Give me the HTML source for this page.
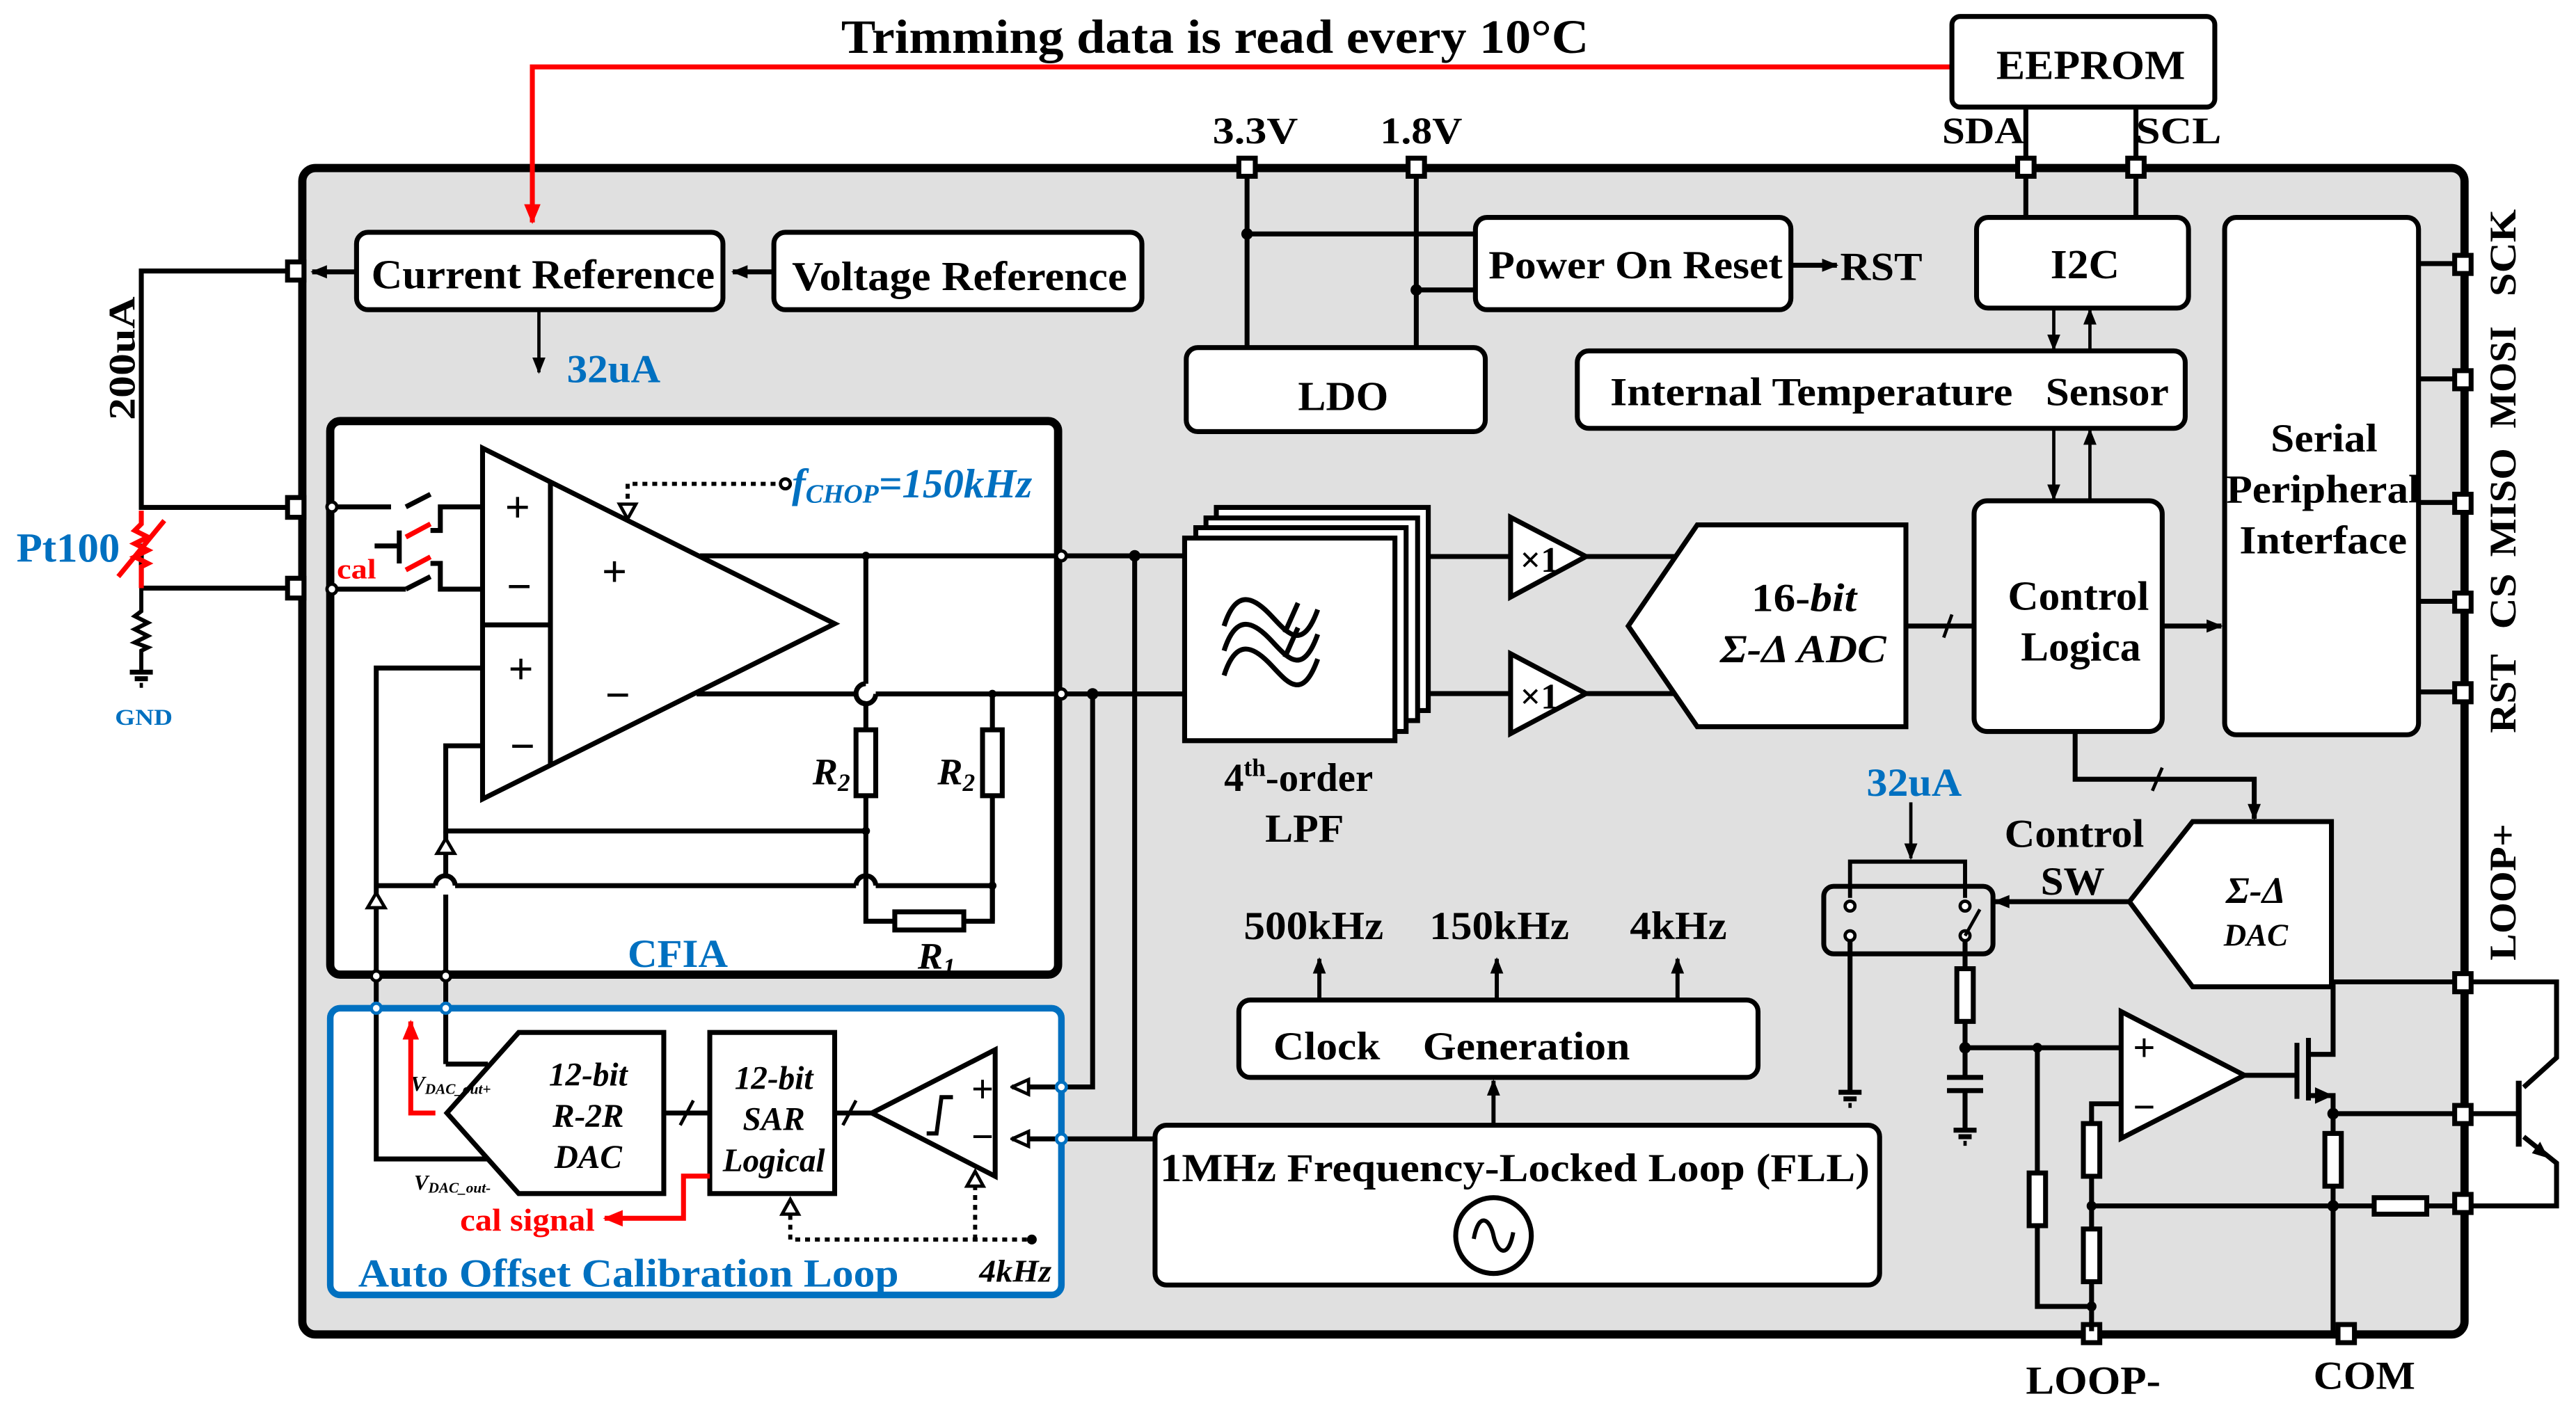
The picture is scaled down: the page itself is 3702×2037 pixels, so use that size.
<!DOCTYPE html>
<html><head><meta charset="utf-8"><style>
html,body{margin:0;padding:0;background:#fff;}
svg{display:block;}
text{font-family:"Liberation Serif",serif;font-weight:bold;}
</style></head><body>
<svg width="3702" height="2037" viewBox="0 0 1560 858.4" preserveAspectRatio="none" xmlns="http://www.w3.org/2000/svg">
<defs>
<marker id="ab" markerWidth="10" markerHeight="10" refX="9" refY="5" orient="auto" markerUnits="userSpaceOnUse"><path d="M0,1 L10,5 L0,9 Z" fill="#000"/></marker>
<marker id="ar" markerWidth="12" markerHeight="12" refX="11" refY="6" orient="auto" markerUnits="userSpaceOnUse"><path d="M0,1 L12,6 L0,11 Z" fill="#f00"/></marker>
<marker id="ao" markerWidth="12" markerHeight="12" refX="11" refY="6" orient="auto" markerUnits="userSpaceOnUse"><path d="M1,1.5 L11,6 L1,10.5 Z" fill="#fff" stroke="#000" stroke-width="2"/></marker>
</defs>
<g transform="scale(0.995,0.998)">
<text x="512" y="32" font-size="29" textLength="455" lengthAdjust="spacingAndGlyphs">Trimming data is read every 10°C</text>

<rect x="184" y="102" width="1316" height="708" rx="8" fill="#e0e0e0" stroke="#000" stroke-width="5"/>

<polyline points="1188,40.6 324,40.6 324,135" fill="none" stroke="#f00" stroke-width="3" marker-end="url(#ar)"/>

<rect x="1188" y="10" width="160" height="55" rx="5" fill="#fff" stroke="#000" stroke-width="3"/>
<text x="1215" y="48" font-size="25" textLength="115" lengthAdjust="spacingAndGlyphs">EEPROM</text>
<g stroke="#000" stroke-width="3" fill="none">
<line x1="1233" y1="65" x2="1233" y2="132"/>
<line x1="1300" y1="65" x2="1300" y2="132"/>
<line x1="759" y1="102" x2="759" y2="211"/>
<line x1="862" y1="102" x2="862" y2="211"/>
<line x1="759" y1="142" x2="898" y2="142"/>
<line x1="862" y1="176" x2="898" y2="176"/>
</g>
<text x="1182" y="87" font-size="23" textLength="50" lengthAdjust="spacingAndGlyphs">SDA</text>
<text x="1300" y="87" font-size="23" textLength="52" lengthAdjust="spacingAndGlyphs">SCL</text>
<text x="738" y="87" font-size="23" textLength="52" lengthAdjust="spacingAndGlyphs">3.3V</text>
<text x="840" y="87" font-size="23" textLength="50" lengthAdjust="spacingAndGlyphs">1.8V</text>
<circle cx="759" cy="142" r="3.5"/><circle cx="862" cy="176" r="3.5"/>

<g fill="#fff" stroke="#000" stroke-width="3">
<rect x="217" y="141" width="223" height="47" rx="7"/>
<rect x="471" y="141" width="224" height="47" rx="7"/>
<rect x="898" y="132" width="192" height="56" rx="7"/>
<rect x="722" y="211" width="182" height="51" rx="7"/>
<rect x="960" y="213" width="370" height="47" rx="7"/>
<rect x="1203" y="132" width="129" height="55" rx="7"/>
<rect x="1354" y="132" width="118" height="314" rx="7"/>
<rect x="1201.5" y="304" width="114.5" height="140" rx="8"/>
</g>
<text x="226" y="175" font-size="25" textLength="209" lengthAdjust="spacingAndGlyphs">Current Reference</text>
<text x="482" y="176" font-size="25" textLength="204" lengthAdjust="spacingAndGlyphs">Voltage Reference</text>
<text x="906" y="169" font-size="24" textLength="179" lengthAdjust="spacingAndGlyphs">Power On Reset</text>
<text x="790" y="249" font-size="25" textLength="55" lengthAdjust="spacingAndGlyphs">LDO</text>
<text x="980" y="246" font-size="24" textLength="245" lengthAdjust="spacingAndGlyphs">Internal Temperature</text>
<text x="1245" y="246" font-size="24" textLength="75" lengthAdjust="spacingAndGlyphs">Sensor</text>
<text x="1248" y="169" font-size="25" textLength="42" lengthAdjust="spacingAndGlyphs">I2C</text>
<text x="1382" y="274" font-size="24" textLength="65" lengthAdjust="spacingAndGlyphs">Serial</text>
<text x="1355" y="305" font-size="24" textLength="118" lengthAdjust="spacingAndGlyphs">Peripheral</text>
<text x="1363" y="336" font-size="24" textLength="102" lengthAdjust="spacingAndGlyphs">Interface</text>
<text x="1222" y="370" font-size="25" textLength="86" lengthAdjust="spacingAndGlyphs">Control</text>
<text x="1230" y="401" font-size="25" textLength="73" lengthAdjust="spacingAndGlyphs">Logica</text>

<g stroke="#000" stroke-width="3" fill="none">
<line x1="1090" y1="161" x2="1118" y2="161" marker-end="url(#ab)"/>
<line x1="471" y1="165" x2="446" y2="165" marker-end="url(#ab)"/>
<line x1="217" y1="165" x2="190" y2="165" marker-end="url(#ab)"/>
<line x1="328" y1="188" x2="328" y2="226" stroke-width="2" marker-end="url(#ab)"/>
<line x1="1250" y1="187" x2="1250" y2="212" stroke-width="2" marker-end="url(#ab)"/>
<line x1="1272" y1="212" x2="1272" y2="188" stroke-width="2" marker-end="url(#ab)"/>
<line x1="1250" y1="260" x2="1250" y2="303" stroke-width="2" marker-end="url(#ab)"/>
<line x1="1272" y1="303" x2="1272" y2="261" stroke-width="2" marker-end="url(#ab)"/>
<line x1="1316" y1="380" x2="1352" y2="380" marker-end="url(#ab)"/>
<line x1="1160" y1="380" x2="1201" y2="380"/>
<line x1="1183" y1="387" x2="1188" y2="373" stroke-width="2"/>
<line x1="1472" y1="160" x2="1497" y2="160"/>
<line x1="1472" y1="230" x2="1497" y2="230"/>
<line x1="1472" y1="305" x2="1497" y2="305"/>
<line x1="1472" y1="365" x2="1497" y2="365"/>
<line x1="1472" y1="420" x2="1497" y2="420"/>
</g>
<text x="1120" y="170" font-size="24" textLength="50" lengthAdjust="spacingAndGlyphs">RST</text>
<text x="345" y="232" font-size="24" fill="#0070c0" textLength="57" lengthAdjust="spacingAndGlyphs">32uA</text>

<g font-size="23">
<text transform="translate(1531,180) rotate(-90)" textLength="53" lengthAdjust="spacingAndGlyphs">SCK</text>
<text transform="translate(1531,260) rotate(-90)" textLength="62" lengthAdjust="spacingAndGlyphs">MOSI</text>
<text transform="translate(1531,338) rotate(-90)" textLength="66" lengthAdjust="spacingAndGlyphs">MISO</text>
<text transform="translate(1531,382) rotate(-90)" textLength="34" lengthAdjust="spacingAndGlyphs">CS</text>
<text transform="translate(1531,445) rotate(-90)" textLength="48" lengthAdjust="spacingAndGlyphs">RST</text>
<text transform="translate(1531,583) rotate(-90)" textLength="83" lengthAdjust="spacingAndGlyphs">LOOP+</text>
</g>

<g stroke="#000" stroke-width="3" fill="none">
<polyline points="180,164.5 86,164.5 86,308 180,308"/>
<polyline points="86,357 180,357"/>
<line x1="86" y1="330" x2="86" y2="357"/>
<polyline points="86,357 86,371 82,374 90,378 82,382 90,386 82,390 90,393 86,395 86,408" stroke-width="2.5"/>
<line x1="79" y1="408" x2="93" y2="408"/><line x1="82" y1="412" x2="90" y2="412"/><line x1="85" y1="416" x2="87" y2="416"/>
</g>
<g stroke="#f00" stroke-width="3" fill="none">
<polyline points="86,310 86,318 82,322 90,326 82,330 90,334 82,338 90,342 86,344 86,357"/>
<line x1="72" y1="350" x2="100" y2="316"/>
</g>
<text transform="translate(82,255) rotate(-90)" font-size="23" textLength="75" lengthAdjust="spacingAndGlyphs">200uA</text>
<text x="10" y="341" font-size="25" fill="#0070c0" textLength="63" lengthAdjust="spacingAndGlyphs">Pt100</text>
<text x="70" y="440" font-size="14" fill="#0070c0" textLength="35" lengthAdjust="spacingAndGlyphs">GND</text>

<g fill="#fff" stroke="#000" stroke-width="3">
<rect x="175" y="159" width="10" height="11"/>
<rect x="175" y="302" width="10" height="12"/>
<rect x="175" y="351" width="10" height="12"/>
<rect x="754" y="96" width="10" height="11"/>
<rect x="857" y="96" width="10" height="11"/>
<rect x="1228" y="96" width="10" height="11"/>
<rect x="1295" y="96" width="10" height="11"/>
<rect x="1494" y="155" width="10" height="11"/>
<rect x="1494" y="225" width="10" height="11"/>
<rect x="1494" y="300" width="10" height="11"/>
<rect x="1494" y="360" width="10" height="11"/>
<rect x="1494" y="415" width="10" height="11"/>
<rect x="1494" y="591" width="10" height="11"/>
<rect x="1494" y="671" width="10" height="11"/>
<rect x="1494" y="725" width="10" height="11"/>
<rect x="1268" y="804" width="10" height="11"/>
<rect x="1423" y="804" width="10" height="11"/>
</g>
<text x="1233" y="846" font-size="24" textLength="82" lengthAdjust="spacingAndGlyphs">LOOP-</text>
<text x="1408" y="843" font-size="24" textLength="62" lengthAdjust="spacingAndGlyphs">COM</text>

<!-- CFIA -->
<rect x="201" y="255.6" width="443" height="336" rx="6" fill="#fff" stroke="#000" stroke-width="5"/>
<rect x="201" y="612" width="445" height="174" rx="6" fill="#fff" stroke="#0070c0" stroke-width="4"/>
<g stroke="#000" stroke-width="3" fill="none">
<polygon points="293.7,272 508,378.6 293.7,485" fill="#fff"/>
<line x1="335" y1="292.5" x2="335" y2="464.5"/>
<line x1="293.7" y1="379.3" x2="335" y2="379.3"/>
<line x1="201" y1="307.7" x2="238" y2="307.7"/>
<line x1="247" y1="307.7" x2="262" y2="300"/>
<polyline points="293.7,307.7 268,307.7 268,322 262,322"/>
<line x1="201" y1="357.6" x2="247" y2="357.6"/>
<line x1="247" y1="357.6" x2="262" y2="350"/>
<polyline points="293.7,357.6 268,357.6 268,342 262,342"/>
<line x1="228" y1="331.4" x2="243" y2="331.4"/>
<line x1="243" y1="322" x2="243" y2="342"/>
<line x1="426" y1="337.4" x2="724" y2="337.4"/>
<line x1="424" y1="421.2" x2="521" y2="421.2"/>
<path d="M521,421.2 A6,6 0 0 0 533,421.2"/>
<line x1="533" y1="421.2" x2="724" y2="421.2"/>
<line x1="527" y1="337.4" x2="527" y2="415"/>
<path d="M527,415 A6,6 0 0 0 527,427"/>
<line x1="527" y1="427" x2="527" y2="443"/>
<rect x="521" y="443" width="12" height="40" fill="#fff"/>
<line x1="527" y1="483" x2="527" y2="531"/>
<path d="M521,537.6 A6,6 0 0 1 533,537.6"/>
<polyline points="527,531 527,559.2 544.6,559.2"/>
<rect x="544.6" y="553.5" width="42" height="11" fill="#fff"/>
<polyline points="586.6,559.2 604,559.2 604,483"/>
<rect x="598" y="443" width="12" height="40" fill="#fff"/>
<line x1="604" y1="443" x2="604" y2="421.2"/>
<polyline points="293.7,452.7 271.3,452.7 271.3,504.4 527,504.4"/>
<line x1="271.3" y1="504.4" x2="271.3" y2="532"/>
<path d="M265,537.6 A6,6 0 0 1 277,537.6"/>
<line x1="271.3" y1="543" x2="271.3" y2="645.9"/>
<polyline points="293.7,405.5 229,405.5 229,703.5 297,703.5"/>
<polyline points="229,537.6 265,537.6"/>
<polyline points="277,537.6 521,537.6"/>
<polyline points="533,537.6 604,537.6 604,559.2"/>
<polyline points="271.3,645.9 297,645.9"/>
</g>
<g stroke="#f00" stroke-width="3"><line x1="247" y1="326" x2="262" y2="318"/><line x1="247" y1="346" x2="262" y2="338"/></g>
<g fill="#fff" stroke="#000" stroke-width="2">
<polygon points="271.3,509 266,518 276.6,518"/><polygon points="229,542 223.7,551 234.3,551"/>
</g>
<g font-size="27"><text x="315" y="317" text-anchor="middle">+</text><text x="316" y="365" text-anchor="middle">−</text>
<text x="317" y="415" text-anchor="middle">+</text><text x="318" y="462" text-anchor="middle">−</text>
<text x="374" y="356" text-anchor="middle">+</text><text x="376" y="431" text-anchor="middle">−</text></g>
<text x="506" y="476" font-size="23" font-style="italic" text-anchor="middle">R<tspan font-size="15" dy="4">2</tspan></text>
<text x="582" y="476" font-size="23" font-style="italic" text-anchor="middle">R<tspan font-size="15" dy="4">2</tspan></text>
<text x="570" y="588" font-size="23" font-style="italic" text-anchor="middle">R<tspan font-size="15" dy="4">1</tspan></text>
<text x="382" y="587" font-size="24" fill="#0070c0" textLength="61" lengthAdjust="spacingAndGlyphs">CFIA</text>
<text x="205" y="351" font-size="17" fill="#f00" textLength="24" lengthAdjust="spacingAndGlyphs">cal</text>
<polyline points="478,293.7 382,293.7 382,313" fill="none" stroke="#000" stroke-width="2.5" stroke-dasharray="3,3"/>
<polygon points="382,315 377,306 387,306" fill="#fff" stroke="#000" stroke-width="2"/>
<circle cx="478" cy="293.7" r="3" fill="#fff" stroke="#000" stroke-width="2"/>
<text x="482" y="302" font-size="25" fill="#0070c0" font-style="italic">f<tspan font-size="16" dy="3">CHOP</tspan><tspan dy="-3">=150kHz</tspan></text>
<g fill="#fff" stroke="#000" stroke-width="2">
<circle cx="202" cy="307.7" r="3"/><circle cx="202" cy="357.6" r="3"/>
<circle cx="646" cy="337.4" r="3"/><circle cx="646" cy="421.2" r="3"/>
<circle cx="229" cy="592.4" r="3"/><circle cx="271.3" cy="592.4" r="3"/>
</g>
<g><circle cx="527" cy="337.4" r="2.5"/><circle cx="604" cy="421.2" r="2.5"/><circle cx="527" cy="504.4" r="2.5"/><circle cx="604" cy="537.6" r="2.5"/><circle cx="690.6" cy="337.4" r="3.5"/><circle cx="665" cy="421.2" r="3.5"/></g>

<!-- auto offset -->
<g stroke="#000" stroke-width="3" fill="#fff">
<polygon points="272,675.6 315.7,626.7 404,626.7 404,724.5 315.7,724.5"/>
<rect x="432" y="626.7" width="76" height="97.8"/>
<polygon points="605.7,637.2 530.6,675.6 605.7,714"/>
</g>
<g stroke="#000" stroke-width="3" fill="none">
<line x1="404" y1="675.6" x2="432" y2="675.6"/><line x1="414" y1="683" x2="422" y2="668" stroke-width="2"/>
<line x1="508" y1="675.6" x2="530.6" y2="675.6"/><line x1="513" y1="683" x2="521" y2="668" stroke-width="2"/>
<polyline points="646,659.8 665,659.8 665,421.2"/>
<polyline points="646,691.3 703,691.3"/>
<line x1="690.6" y1="337.4" x2="690.6" y2="691.3"/>
<line x1="646" y1="659.8" x2="616" y2="659.8" marker-end="url(#ao)"/>
<line x1="646" y1="691.3" x2="616" y2="691.3" marker-end="url(#ao)"/>
<polyline points="564,688 570,688 573,666 580,666" stroke-width="2.5"/>
</g>
<g fill="#fff" stroke="#0070c0" stroke-width="2"><circle cx="229" cy="612" r="3"/><circle cx="271.3" cy="612" r="3"/><circle cx="646" cy="659.8" r="3"/><circle cx="646" cy="691.3" r="3"/></g>
<g font-size="20" font-style="italic" text-anchor="middle"><text x="358" y="659">12-bit</text><text x="358" y="684">R-2R</text><text x="358" y="709">DAC</text>
<text x="471" y="661">12-bit</text><text x="471" y="686">SAR</text><text x="471" y="711">Logical</text></g>
<text x="598" y="669" font-size="24" text-anchor="middle">+</text><text x="598" y="698" font-size="24" text-anchor="middle">−</text>
<text x="250" y="662" font-size="13" font-style="italic" font-weight="normal">V<tspan font-size="9" dy="2">DAC_out+</tspan></text>
<text x="252" y="722" font-size="13" font-style="italic" font-weight="normal">V<tspan font-size="9" dy="2">DAC_out-</tspan></text>
<polyline points="265,675.6 250,675.6 250,620" fill="none" stroke="#f00" stroke-width="3" marker-end="url(#ar)"/>
<polyline points="432,713.9 416,713.9 416,739.5 368,739.5" fill="none" stroke="#f00" stroke-width="3" marker-end="url(#ar)"/>
<text x="280" y="747" font-size="19" fill="#f00" textLength="82" lengthAdjust="spacingAndGlyphs">cal signal</text>
<polyline points="625,752.4 481,752.4 481,733" fill="none" stroke="#000" stroke-width="2.5" stroke-dasharray="3,3"/>
<line x1="593.5" y1="752.4" x2="593.5" y2="718" stroke="#000" stroke-width="2.5" stroke-dasharray="3,3"/>
<polygon points="481,728 476,737 486,737" fill="#fff" stroke="#000" stroke-width="2"/>
<polygon points="593.5,711 588.5,720 598.5,720" fill="#fff" stroke="#000" stroke-width="2"/>
<circle cx="628" cy="752.4" r="3"/>
<text x="596" y="778" font-size="19" font-style="italic" textLength="44" lengthAdjust="spacingAndGlyphs">4kHz</text>
<text x="218" y="781" font-size="24" fill="#0070c0" textLength="329" lengthAdjust="spacingAndGlyphs">Auto Offset Calibration Loop</text>

<!-- LPF -->
<g fill="#fff" stroke="#000" stroke-width="3">
<rect x="740.3" y="308" width="129" height="123.3"/>
<rect x="734" y="314.4" width="128.8" height="123"/>
<rect x="727.8" y="320.3" width="128" height="123.7"/>
<rect x="721" y="326.6" width="128" height="123"/>
</g>
<g fill="none" stroke="#000" stroke-width="3">
<path d="M745,380 C752,358 762,362 772,372 S792,398 802,370"/>
<path d="M745,395 C752,373 762,377 772,387 S792,413 802,385"/>
<path d="M745,410 C752,388 762,392 772,402 S792,428 802,400"/>
<line x1="790" y1="366" x2="782" y2="384"/><line x1="790" y1="381" x2="782" y2="399"/>
</g>
<text x="745" y="480" font-size="24">4<tspan font-size="15" dy="-9">th</tspan><tspan dy="9">-order</tspan></text>
<text x="770" y="511" font-size="24" textLength="48" lengthAdjust="spacingAndGlyphs">LPF</text>
<g stroke="#000" stroke-width="3">
<line x1="869" y1="337.8" x2="919" y2="337.8"/><line x1="869" y1="421" x2="919" y2="421"/>
<line x1="965" y1="337.8" x2="1033" y2="337.8" marker-end="url(#ao)"/>
<line x1="965" y1="421" x2="1033" y2="421" marker-end="url(#ao)"/>
</g>
<g fill="#fff" stroke="#000" stroke-width="3">
<polygon points="919.4,314 965.3,337.8 919.4,362.4"/>
<polygon points="919.4,396.8 965.3,421 919.4,445.3"/>
<polygon points="991,380 1033,318.6 1160,318.6 1160,441.1 1033,441.1"/>
</g>
<text x="937" y="347" font-size="22" text-anchor="middle" font-weight="normal">×1</text>
<text x="937" y="430" font-size="22" text-anchor="middle" font-weight="normal">×1</text>
<text x="1066" y="371" font-size="24" textLength="64" lengthAdjust="spacingAndGlyphs">16-<tspan font-style="italic">bit</tspan></text>
<text x="1047" y="402" font-size="24" font-style="italic" textLength="101" lengthAdjust="spacingAndGlyphs">Σ-Δ ADC</text>

<!-- clock / FLL -->
<g fill="#fff" stroke="#000" stroke-width="3">
<rect x="754" y="607" width="316" height="47" rx="7"/>
<rect x="703" y="683" width="441" height="97" rx="7"/>
<circle cx="909" cy="750" r="23"/>
</g>
<path d="M897,752 C900,735 907,740 909,750 S918,765 921,748" fill="none" stroke="#000" stroke-width="2.5"/>
<g stroke="#000" stroke-width="2.5">
<line x1="803" y1="607" x2="803" y2="582" marker-end="url(#ab)"/>
<line x1="911" y1="607" x2="911" y2="582" marker-end="url(#ab)"/>
<line x1="1021" y1="607" x2="1021" y2="582" marker-end="url(#ab)"/>
<line x1="909" y1="683" x2="909" y2="656" marker-end="url(#ab)"/>
</g>
<text x="757" y="570" font-size="24" textLength="85" lengthAdjust="spacingAndGlyphs">500kHz</text>
<text x="870" y="570" font-size="24" textLength="85" lengthAdjust="spacingAndGlyphs">150kHz</text>
<text x="992" y="570" font-size="24" textLength="59" lengthAdjust="spacingAndGlyphs">4kHz</text>
<text x="775" y="643" font-size="24" textLength="65" lengthAdjust="spacingAndGlyphs">Clock</text>
<text x="866" y="643" font-size="24" textLength="126" lengthAdjust="spacingAndGlyphs">Generation</text>
<text x="706" y="717" font-size="24" textLength="432" lengthAdjust="spacingAndGlyphs">1MHz  Frequency-Locked Loop (FLL)</text>

<!-- output stage -->
<g stroke="#000" stroke-width="3" fill="none">
<polyline points="1263,444 1263,473 1372,473 1372,497" marker-end="url(#ab)"/>
<line x1="1310" y1="480" x2="1316" y2="466" stroke-width="2"/>
<line x1="1298" y1="547.3" x2="1214" y2="547.3" marker-end="url(#ab)"/>
<line x1="1163" y1="487" x2="1163" y2="521" stroke-width="2" marker-end="url(#ab)"/>
<polyline points="1126,545 1126,523 1196,523 1196,545" stroke-width="2.5"/>
<line x1="1126" y1="570" x2="1126" y2="663"/>
<line x1="1196" y1="570" x2="1196" y2="588"/>
<rect x="1191" y="588" width="10" height="32" fill="#fff"/>
<line x1="1196" y1="620" x2="1196" y2="654"/>
<line x1="1185" y1="654" x2="1207" y2="654"/><line x1="1185" y1="662" x2="1207" y2="662"/>
<line x1="1196" y1="662" x2="1196" y2="686"/>
<line x1="1119" y1="663" x2="1133" y2="663"/><line x1="1122" y1="667" x2="1130" y2="667"/><line x1="1125" y1="671" x2="1127" y2="671"/>
<line x1="1189" y1="686" x2="1203" y2="686"/><line x1="1192" y1="690" x2="1200" y2="690"/><line x1="1195" y1="694" x2="1197" y2="694"/>
<line x1="1196" y1="636" x2="1296" y2="636"/>
<polyline points="1240,636 1240,793 1273,793"/>
<rect x="1235" y="712" width="10" height="32" fill="#fff"/>
<polyline points="1296,670 1273,670 1273,808"/>
<rect x="1268" y="682" width="10" height="32" fill="#fff"/>
<rect x="1268" y="746" width="10" height="32" fill="#fff"/>
<line x1="1366" y1="652.7" x2="1398" y2="652.7"/>
<line x1="1398" y1="633" x2="1398" y2="667"/>
<line x1="1405" y1="630" x2="1405" y2="668"/>
<polyline points="1405,640 1420,640 1420,596 1494,596"/>
<polyline points="1405,665 1420,665 1420,808"/>
<line x1="1420" y1="676" x2="1494" y2="676"/>
<rect x="1415" y="688" width="10" height="32" fill="#fff"/>
<line x1="1273" y1="732" x2="1445" y2="732"/>
<rect x="1445" y="727" width="32" height="10" fill="#fff"/>
<line x1="1477" y1="732" x2="1494" y2="732"/>
<polyline points="1504,596 1556,596 1556,642 1536,660"/>
<line x1="1504" y1="676" x2="1533" y2="676"/>
<line x1="1533" y1="656" x2="1533" y2="696" stroke-width="3.5"/>
<polyline points="1536,690 1556,706 1556,732 1504,732"/>
</g>
<polygon points="1420,665 1409,660 1409,670"/>
<polygon points="1551,703 1541,700 1546,693"/>
<rect x="1110" y="538" width="103" height="41" rx="6" fill="none" stroke="#000" stroke-width="3"/>
<g fill="#fff" stroke="#000" stroke-width="2">
<circle cx="1126" cy="550" r="3"/><circle cx="1126" cy="568" r="3"/><circle cx="1196" cy="550" r="3"/><circle cx="1196" cy="568" r="3"/>
</g>
<line x1="1196" y1="568" x2="1205" y2="552" stroke="#000" stroke-width="2"/>
<g><circle cx="1196" cy="636" r="3.5"/><circle cx="1240" cy="636" r="3"/><circle cx="1273" cy="732" r="3"/><circle cx="1273" cy="793" r="3"/><circle cx="1420" cy="676" r="3.5"/><circle cx="1420" cy="732" r="3.5"/></g>
<polygon points="1291,614 1366,652.7 1291,691" fill="#fff" stroke="#000" stroke-width="3"/>
<text x="1305" y="644" font-size="24" text-anchor="middle">+</text><text x="1305" y="680" font-size="24" text-anchor="middle">−</text>
<polygon points="1296,547.3 1334.5,498.7 1419,498.7 1419,599 1334.5,599" fill="#fff" stroke="#000" stroke-width="3"/>
<text x="1373" y="548" font-size="23" font-style="italic" text-anchor="middle">Σ-Δ</text>
<text x="1373" y="574" font-size="19" font-style="italic" text-anchor="middle" font-weight="normal">DAC</text>
<text x="1220" y="514" font-size="24" textLength="85" lengthAdjust="spacingAndGlyphs">Control</text>
<text x="1242" y="543" font-size="24" textLength="39" lengthAdjust="spacingAndGlyphs">SW</text>
<text x="1136" y="483" font-size="24" fill="#0070c0" textLength="58" lengthAdjust="spacingAndGlyphs">32uA</text>
</g>
</svg>
</body></html>
